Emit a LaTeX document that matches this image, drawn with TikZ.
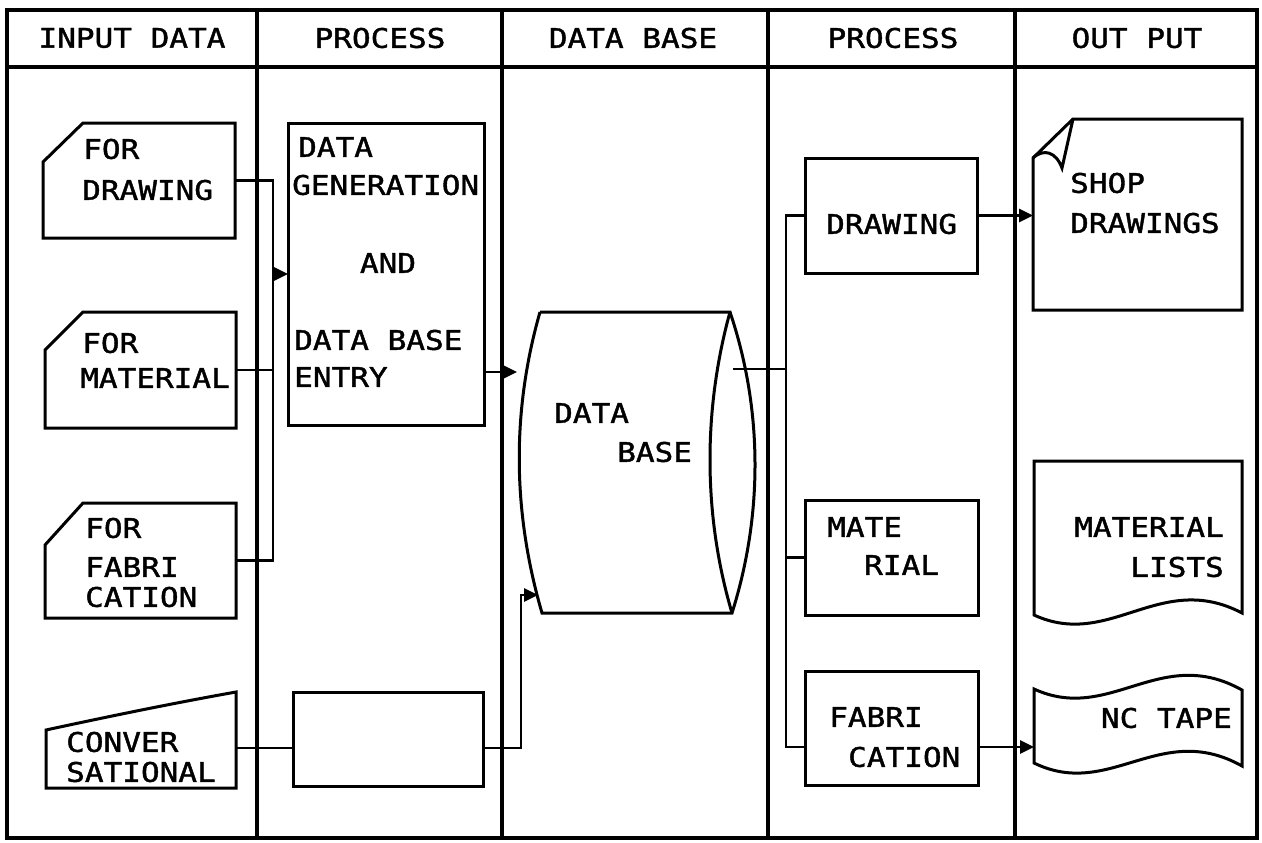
\documentclass[tikz,border=0pt]{standalone}
\usepackage{fontspec}
\newfontfamily\plotfont[FakeStretch=1.15,FakeBold=1.5]{DejaVu Sans Mono}
\usetikzlibrary{arrows.meta,calc}
\begin{document}
\begin{tikzpicture}[x=1pt,y=-1pt,
  frame/.style={line width=3.4pt},
  ln/.style={line width=2.8pt},
  arr/.style={line width=2.8pt,-{Triangle[length=14pt,width=13pt]}},
  shp/.style={line width=3pt,line join=miter},
  boxn/.style={draw,line width=3pt,inner sep=0pt,outer sep=0pt},
  ghost/.style={inner sep=0pt,outer sep=0pt},
  txt/.style={font=\plotfont\fontsize{27}{32}\selectfont,inner sep=0pt,anchor=west},
  hd/.style={font=\plotfont\fontsize{27}{32}\selectfont,inner sep=0pt}
]
\useasboundingbox (0,0) rectangle (1262,843);
\fill[white] (0,0) rectangle (1262,843);

% frame and columns
\draw[frame] (7,10) rectangle (1257,838);
\draw[frame] (7,67) -- (1257,67);
\foreach \cx in {257,502,768,1015} \draw[frame] (\cx,10) -- (\cx,838);

% headers
\node[hd] (h1) at (132,38) {INPUT DATA};
\node[hd] (h2) at (380,38) {PROCESS};
\node[hd] (h3) at (633,38) {DATA BASE};
\node[hd] (h4) at (893,38) {PROCESS};
\node[hd] (h5) at (1137,38) {OUT PUT};

% input cards (ghost nodes + outlines)
\node[ghost,minimum width=192pt,minimum height=115pt] (c1) at (139,180.5) {};
\node[ghost,minimum width=191pt,minimum height=116pt] (c2) at (140.5,370) {};
\node[ghost,minimum width=191pt,minimum height=115pt] (c3) at (140.5,560.5) {};
\node[ghost,minimum width=190pt,minimum height=96pt] (cv) at (141,740) {};
\draw[shp] (83,123) -- (235,123) -- (235,238) -- (43,238) -- (43,162) -- cycle;
\draw[shp] (83,312) -- (236,312) -- (236,428) -- (45,428) -- (45,350) -- cycle;
\draw[shp] (83,503) -- (236,503) -- (236,618) -- (45,618) -- (45,545) -- cycle;
\draw[shp] (46,730) .. controls (120,714) and (180,702) .. (236,692) -- (236,788) -- (46,788) -- cycle;

\node[txt] (t1) at (83,149) {FOR};
\node[txt] (t2) at (82,190) {DRAWING};
\node[txt] (t3) at (82,343) {FOR};
\node[txt] (t4) at (80,378) {MATERIAL};
\node[txt] (t5) at (85,528) {FOR};
\node[txt] (t6) at (85,567) {FABRI};
\node[txt] (t7) at (85,597) {CATION};
\node[txt] (t8) at (66,742) {CONVER};
\node[txt] (t9) at (66,772) {SATIONAL};

% process boxes (column 2)
\node[boxn,minimum width=196pt,minimum height=302pt] (dg) at (386,274) {};
\node[boxn,minimum width=190pt,minimum height=94pt] (eb) at (388,739) {};
\node[txt] (g1) at (298,147) {DATA};
\node[txt] (g2) at (292,185) {GENERATION};
\node[hd] (g3) at (388,263) {AND};
\node[txt] (g4) at (294,340) {DATA BASE};
\node[txt] (g5) at (294,377) {ENTRY};

% data base
\node[ghost,minimum width=238pt,minimum height=301pt] (db) at (636,462.5) {};
\draw[shp] (540,312) -- (730,312)
  .. controls (763,410) and (763,515) .. (732,613)
  -- (542,613)
  .. controls (512,510) and (512,410) .. (540,312);
\draw[shp] (730,312) .. controls (703,410) and (703,515) .. (732,613);
\node[txt] (b1) at (554,413) {DATA};
\node[txt] (b2) at (617,452) {BASE};

% process boxes (column 4)
\node[boxn,minimum width=172pt,minimum height=115pt] (d1) at (891,215.5) {};
\node[boxn,minimum width=173pt,minimum height=115pt] (m1) at (891.5,557.5) {};
\node[boxn,minimum width=173pt,minimum height=114pt] (f1) at (891.5,728) {};
\node[txt] (p1) at (826,224) {DRAWING};
\node[txt] (p2) at (827,527) {MATE};
\node[txt] (p3) at (864,565) {RIAL};
\node[txt] (p4) at (829,717) {FABRI};
\node[txt] (p5) at (848,757) {CATION};

% outputs
\node[ghost,minimum width=209pt,minimum height=191pt] (sd) at (1137.5,214.5) {};
\node[ghost,minimum width=208pt,minimum height=164pt] (ml) at (1138,543) {};
\node[ghost,minimum width=208pt,minimum height=100pt] (nc) at (1138,725) {};
\draw[shp] (1073,119) -- (1242,119) -- (1242,310) -- (1033,310) -- (1033,158) -- cycle;
\draw[shp] (1033,158) .. controls (1044,148) and (1056,152) .. (1062,168) -- (1073,119);
\draw[shp] (1034,461) -- (1242,461) -- (1242,613)
  .. controls (1160,570) and (1110,650) .. (1034,615) -- cycle;
\draw[shp] (1034,689) .. controls (1110,724) and (1160,644) .. (1242,690)
  -- (1242,766) .. controls (1160,720) and (1110,800) .. (1034,763) -- cycle;
\node[txt] (o1) at (1070,183) {SHOP};
\node[txt] (o2) at (1070,223) {DRAWINGS};
\node[txt,anchor=east] (o3) at (1224,527) {MATERIAL};
\node[txt,anchor=east] (o4) at (1224,567) {LISTS};
\node[txt,anchor=east] (o5) at (1232,718) {NC TAPE};

% connectors
\coordinate (busL) at (273,0);
\coordinate (busR) at (786,0);
\coordinate (dgout) at (484,372);
\coordinate (rail) at (0,748);
\coordinate (up) at (521,595);
\coordinate (dbout) at (733,369);

\draw[ln] (c1.east) -- (c1.east -| busL) -- (c3.east -| busL) -- (c3.east);
\draw[ln] (c2.east) -- (c2.east -| busL);
\draw[arr] (dg.west -| busL) -- (dg.west);
\draw[arr] (dgout) -- (dgout -| db.west);
\draw[ln] (cv.east |- rail) -- (eb.west |- rail);
\draw[arr] (eb.east |- rail) -- (up |- rail) -- (up) -- ++(17,0);
\draw[ln] (dbout) -- (dbout -| busR);
\draw[ln] (d1.west) -- (d1.west -| busR) -- ([yshift=-19pt]f1.west -| busR) -- ([yshift=-19pt]f1.west);
\draw[ln] (m1.west) -- (m1.west -| busR);
\draw[arr] (d1.east) -- (d1.east -| sd.west);
\draw[arr] ([yshift=-19pt]f1.east) -- ([yshift=-19pt]f1.east -| nc.west);
\end{tikzpicture}
\end{document}
